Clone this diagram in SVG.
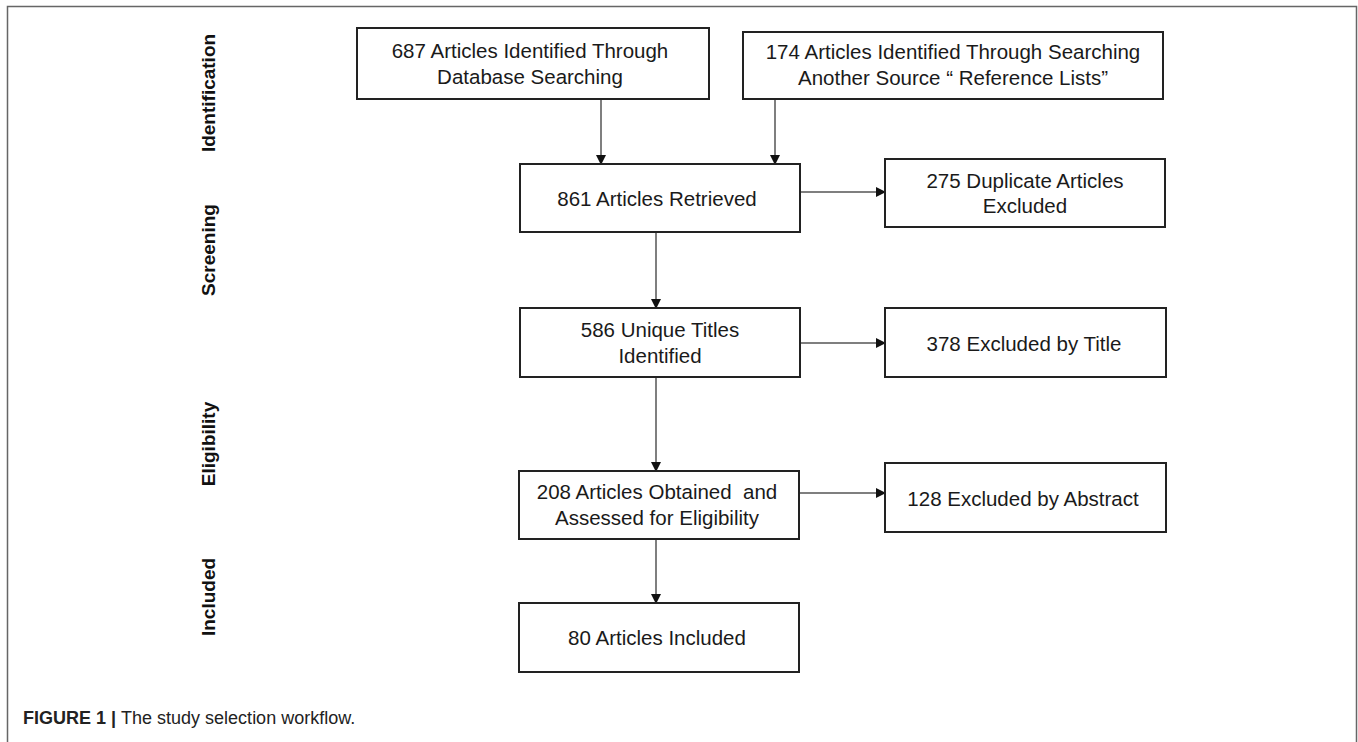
<svg xmlns="http://www.w3.org/2000/svg" width="1358" height="742" viewBox="0 0 1358 742">
<defs>
<marker id="ah" markerWidth="10" markerHeight="10" refX="9" refY="5" orient="auto" markerUnits="userSpaceOnUse">
<path d="M0,0 L10,5 L0,10 Z" fill="#111"/>
</marker>
<style>
.box{fill:#fff;stroke:#222;stroke-width:2}
.t{font-family:"Liberation Sans",Arial,sans-serif;font-size:20.5px;fill:#1a1a1a;text-anchor:middle}
.side{font-family:"Liberation Sans",Arial,sans-serif;font-size:19px;font-weight:bold;fill:#111;text-anchor:middle}
.c{stroke:#555;stroke-width:1.5;fill:none;marker-end:url(#ah)}
.cap{font-family:"Liberation Sans",Arial,sans-serif;font-size:18px;fill:#222}
</style>
</defs>
<rect width="1358" height="742" fill="#fff"/>
<path d="M7.5,742 V6.5 H1356.5 V742" fill="none" stroke="#666" stroke-width="1.5"/>

<g id="labels">
<text class="side" transform="translate(215,93) rotate(-90)">Identification</text>
<text class="side" transform="translate(215,250) rotate(-90)">Screening</text>
<text class="side" transform="translate(215,444) rotate(-90)">Eligibility</text>
<text class="side" transform="translate(215,597) rotate(-90)">Included</text>
</g>

<g id="connectors">
<line class="c" x1="601" y1="99" x2="601" y2="164"/>
<line class="c" x1="775" y1="99" x2="775" y2="164"/>
<line class="c" x1="800" y1="192" x2="885" y2="192"/>
<line class="c" x1="656" y1="232" x2="656" y2="308"/>
<line class="c" x1="800" y1="343" x2="885" y2="343"/>
<line class="c" x1="656" y1="377" x2="656" y2="471"/>
<line class="c" x1="799" y1="493" x2="885" y2="493"/>
<line class="c" x1="656" y1="539" x2="656" y2="603"/>
</g>

<g id="n687">
<rect class="box" x="357" y="28" width="352" height="71"/>
<text class="t" x="530" y="58">687 Articles Identified Through</text>
<text class="t" x="530" y="84">Database Searching</text>
</g>
<g id="n174">
<rect class="box" x="743" y="32" width="420" height="67"/>
<text class="t" x="953" y="59">174 Articles Identified Through Searching</text>
<text class="t" x="953" y="85">Another Source “ Reference Lists”</text>
</g>
<g id="n861">
<rect class="box" x="520" y="164" width="280" height="68"/>
<text class="t" x="657" y="206">861 Articles Retrieved</text>
</g>
<g id="n275">
<rect class="box" x="885" y="159" width="280" height="68"/>
<text class="t" x="1025" y="188">275 Duplicate Articles</text>
<text class="t" x="1025" y="213">Excluded</text>
</g>
<g id="n586">
<rect class="box" x="520" y="308" width="280" height="69"/>
<text class="t" x="660" y="337">586 Unique Titles</text>
<text class="t" x="660" y="363">Identified</text>
</g>
<g id="n378">
<rect class="box" x="885" y="308" width="281" height="69"/>
<text class="t" x="1024" y="351">378 Excluded by Title</text>
</g>
<g id="n208">
<rect class="box" x="519" y="471" width="280" height="68"/>
<text class="t" x="657" y="499">208 Articles Obtained&#160; and</text>
<text class="t" x="657" y="525">Assessed for Eligibility</text>
</g>
<g id="n128">
<rect class="box" x="885" y="463" width="281" height="69"/>
<text class="t" x="1023" y="506">128 Excluded by Abstract</text>
</g>
<g id="n80">
<rect class="box" x="519" y="603" width="280" height="69"/>
<text class="t" x="657" y="645">80 Articles Included</text>
</g>

<text class="cap" x="23" y="724"><tspan font-weight="bold">FIGURE 1 | </tspan>The study selection workflow.</text>
</svg>
